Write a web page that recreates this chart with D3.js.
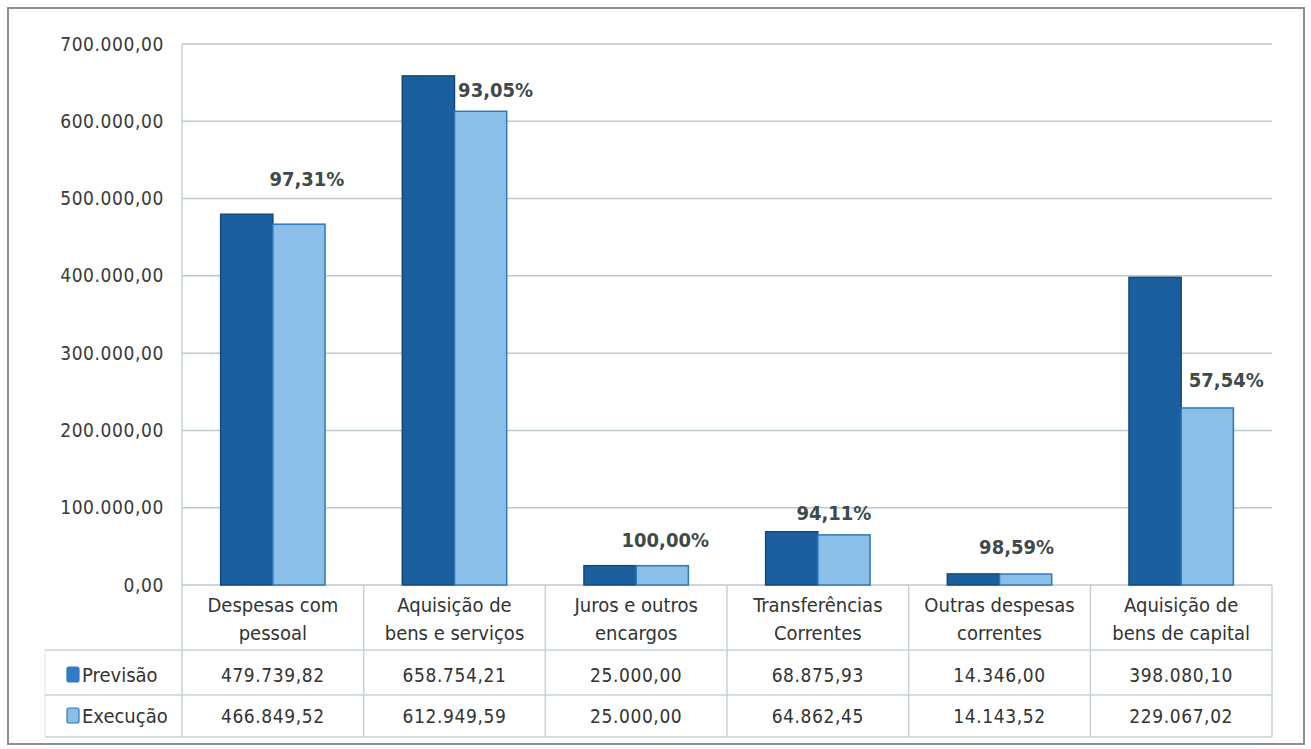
<!DOCTYPE html>
<html>
<head>
<meta charset="utf-8">
<script src="https://cdn.jsdelivr.net/npm/d3@7"></script>
<style>
  body { margin: 0; background: #fff; }
  text { font-family: "Liberation Sans Narrow", "DejaVu Sans Condensed", "Open Sans", sans-serif; }
</style>
</head>
<body>
<svg id="chart" width="1311" height="749"></svg>
<script>
// data
const categories = [
  ["Despesas com", "pessoal"],
  ["Aquisição de", "bens e serviços"],
  ["Juros e outros", "encargos"],
  ["Transferências", "Correntes"],
  ["Outras despesas", "correntes"],
  ["Aquisição de", "bens de capital"]
];
const seriesNames = ["Previsão", "Execução"];
const previsao = [479739.82, 658754.21, 25000.00, 68875.93, 14346.00, 398080.10];
const execucao = [466849.52, 612949.59, 25000.00, 64862.45, 14143.52, 229067.02];
const percentLabels = ["97,31%", "93,05%", "100,00%", "94,11%", "98,59%", "57,54%"];
const yTicks = [0, 100000, 200000, 300000, 400000, 500000, 600000, 700000];

// per-label nudges relative to the Execução bar (layout only)
const labelLift = [38, 14, 19, 15, 20, 21];
const labelShift = [8, 15, 3, -10, -9, 19];

const svg = d3.select("#chart");
const margin = { top: 44, left: 182, right: 39 };
const plotBottom = 585;
const width = 1311 - margin.left - margin.right;

const pt = d3.formatLocale({ decimal: ",", thousands: ".", grouping: [3], currency: ["", ""] });
const fmt = pt.format(",.2f");

const colors = { prev: "#1b5f9f", prevStroke: "#14497c", exec: "#8cbfe7", execStroke: "#2b78bd" };

// outer frame
svg.append("rect").attr("x", 8).attr("y", 8).attr("width", 1296).attr("height", 736)
  .attr("fill", "#fff").attr("stroke", "#8a8f94").attr("stroke-width", 2);

const x = d3.scaleBand().domain(d3.range(categories.length)).range([margin.left, margin.left + width]);
const xs = d3.scaleBand().domain([0, 1]).range([0, x.bandwidth()]).paddingInner(0).paddingOuter(0.74);
const y = d3.scaleLinear().domain([0, 700000]).range([plotBottom, margin.top]);

// gridlines
svg.append("g").selectAll("line").data(yTicks).join("line")
  .attr("x1", margin.left).attr("x2", margin.left + width)
  .attr("y1", d => y(d)).attr("y2", d => y(d))
  .attr("stroke", "#bccacd").attr("stroke-width", 1.5);

// y axis labels
const yAxis = d3.axisLeft(y).tickValues(yTicks).tickSize(0).tickPadding(18).tickFormat(fmt);
svg.append("g").attr("transform", `translate(${margin.left},0)`).call(yAxis)
  .call(g => g.select(".domain").remove())
  .selectAll("text").attr("font-size", 19).attr("fill", "#3a3a3a").attr("letter-spacing", 0.6);

// table geometry
const rowLines = [650, 695, 737];
const tableLeft = 45;

// vertical lines of plot/table
svg.append("g").selectAll("line").data(d3.range(categories.length + 1)).join("line")
  .attr("x1", i => margin.left + i * x.step()).attr("x2", i => margin.left + i * x.step())
  .attr("y1", i => i === 0 ? margin.top : plotBottom).attr("y2", rowLines[2])
  .attr("stroke", "#c5d3d7").attr("stroke-width", 1.5);

svg.append("g").selectAll("line").data(rowLines).join("line")
  .attr("x1", tableLeft).attr("x2", margin.left + width)
  .attr("y1", d => d).attr("y2", d => d)
  .attr("stroke", "#c5d3d7").attr("stroke-width", 1.5);
svg.append("line").attr("x1", tableLeft).attr("x2", tableLeft)
  .attr("y1", rowLines[0]).attr("y2", rowLines[2]).attr("stroke", "#dde6e8");

// bars
const groups = svg.append("g").selectAll("g").data(categories).join("g")
  .attr("transform", (d, i) => `translate(${x(i)},0)`);

groups.append("rect")
  .attr("x", xs(0)).attr("width", xs.bandwidth())
  .attr("y", (d, i) => y(previsao[i])).attr("height", (d, i) => plotBottom - y(previsao[i]))
  .attr("fill", colors.prev).attr("stroke", colors.prevStroke).attr("stroke-width", 1.5);

groups.append("rect")
  .attr("x", xs(1)).attr("width", xs.bandwidth())
  .attr("y", (d, i) => y(execucao[i])).attr("height", (d, i) => plotBottom - y(execucao[i]))
  .attr("fill", colors.exec).attr("stroke", colors.execStroke).attr("stroke-width", 1.5);

// percentage labels
groups.append("text")
  .attr("x", (d, i) => xs(1) + xs.bandwidth() / 2 + labelShift[i])
  .attr("y", (d, i) => y(execucao[i]) - labelLift[i])
  .attr("text-anchor", "middle")
  .attr("font-size", 20).attr("font-weight", "bold").attr("fill", "#3e4a4a")
  .text((d, i) => percentLabels[i]);

// category labels
groups.append("text")
  .attr("x", x.bandwidth() / 2).attr("y", 612)
  .attr("text-anchor", "middle").attr("font-size", 20).attr("fill", "#333")
  .selectAll("tspan").data(d => d).join("tspan")
  .attr("x", x.bandwidth() / 2).attr("dy", (d, i) => i === 0 ? 0 : 28)
  .text(d => d);

// table values
const rows = [previsao, execucao];
rows.forEach((vals, r) => {
  const cy = r === 0 ? 682 : 723;
  groups.append("text")
    .attr("x", x.bandwidth() / 2).attr("y", cy)
    .attr("text-anchor", "middle").attr("font-size", 19).attr("fill", "#333")
    .attr("letter-spacing", 0.6)
    .text((d, i) => fmt(vals[i]));

  svg.append("rect").attr("x", 67).attr("y", cy - 15).attr("width", 12).attr("height", 15)
    .attr("rx", 2)
    .attr("fill", r === 0 ? "#2f7bc4" : "#8cbfe7")
    .attr("stroke", r === 0 ? "#2f7bc4" : "#2b78bd").attr("stroke-width", 1.2);
  svg.append("text").attr("x", 82).attr("y", cy)
    .attr("font-size", 20).attr("fill", "#333")
    .text(seriesNames[r]);
});
</script>
</body>
</html>
